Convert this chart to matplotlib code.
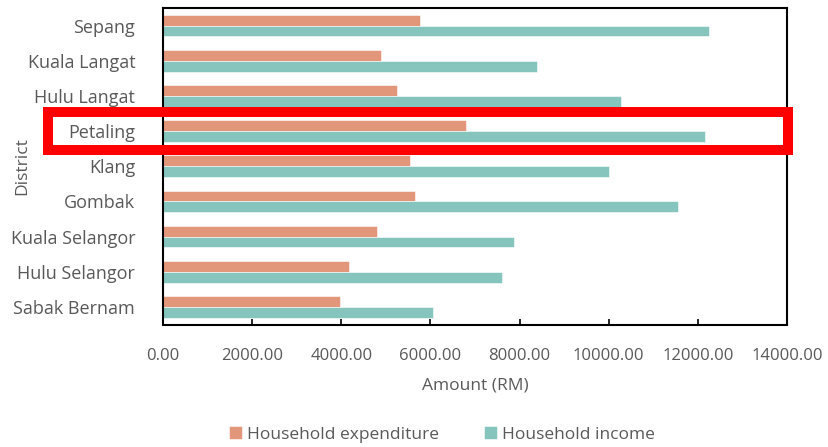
import matplotlib.pyplot as plt
import matplotlib.patches as patches
import matplotlib.transforms as mtransforms
import numpy as np

# Districts listed bottom to top as drawn
districts = ['Sabak Bernam', 'Hulu Selangor', 'Kuala Selangor', 'Gombak', 'Klang',
             'Petaling', 'Hulu Langat', 'Kuala Langat', 'Sepang']
expenditure = [3960, 4180, 4805, 5650, 5535, 6790, 5245, 4890, 5760]
income = [6060, 7610, 7880, 11555, 10000, 12160, 10270, 8395, 12260]
x_ticks = [0, 2000, 4000, 6000, 8000, 10000, 12000, 14000]

c_exp = '#E2967A'
c_inc = '#86C5BE'
grey = '#595959'

plt.rcParams['font.family'] = ['Open Sans', 'DejaVu Sans']

fig = plt.figure(figsize=(8.29, 4.47), dpi=100)
ax = fig.add_axes([163 / 829, 1 - 324.5 / 447, (787 - 163) / 829, (324.5 - 8) / 447])

y = np.arange(len(districts))
h = 0.31
ax.barh(y + h / 2, expenditure, height=h, color=c_exp, edgecolor='white', linewidth=0.4,
        label='Household expenditure')
ax.barh(y - h / 2, income, height=h, color=c_inc, edgecolor='white', linewidth=0.4,
        label='Household income')

ax.set_xlim(0, 14000)
ax.set_ylim(-0.5, len(districts) - 0.5)
ax.set_xticks(x_ticks)
ax.set_xticklabels([f'{v:.2f}' for v in x_ticks], fontsize=12, color=grey)
ax.set_yticks(y)
ax.set_yticklabels(districts, fontsize=13, color=grey)
ax.tick_params(axis='x', direction='in', length=4, width=1.2, pad=17)
ax.tick_params(axis='y', length=0, pad=20)
for s in ax.spines.values():
    s.set_linewidth(1.5)
    s.set_color('black')

ax.set_xlabel('Amount (RM)', fontsize=12.5, color=grey, labelpad=10)
ax.set_ylabel('District', fontsize=12.5, color=grey)
ax.yaxis.set_label_coords(-0.212, 0.5)

fig.legend(loc='lower center', bbox_to_anchor=(0.533, -0.025), ncol=2, frameon=False,
           fontsize=12.5, labelcolor=grey, handlelength=0.75, handleheight=0.75,
           handletextpad=0.3, columnspacing=2.6)

# red highlight box around Petaling
trans = mtransforms.blended_transform_factory(fig.transFigure, ax.transData)
pet = districts.index('Petaling')
box = patches.Rectangle((48 / 829, pet - 0.54), (788 - 48) / 829, 1.08, transform=trans,
                        fill=False, edgecolor='#FF0000', linewidth=7.2, clip_on=False)
fig.add_artist(box)

fig.savefig('out.png', dpi=100)
